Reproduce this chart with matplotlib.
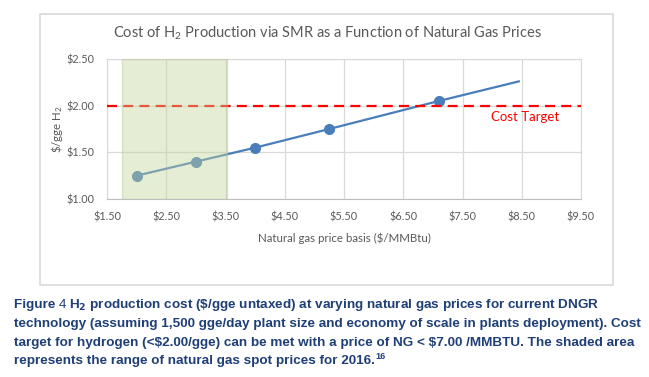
import matplotlib.pyplot as plt
from matplotlib.patches import Rectangle

# Data
gas_price = [2.0, 3.0, 4.0, 5.25, 7.1, 8.45]
h2_cost = [1.25, 1.40, 1.55, 1.75, 2.05, 2.26]
marker_idx = [0, 1, 2, 3, 4]
cost_target = 2.00
spot_range_2016 = (1.75, 3.52)

x_ticks = [1.5, 2.5, 3.5, 4.5, 5.5, 6.5, 7.5, 8.5, 9.5]
y_ticks = [1.0, 1.5, 2.0, 2.5]

caption_lines = [
    "technology (assuming 1,500 gge/day plant size and economy of scale in plants deployment). Cost",
    "target for hydrogen (<$2.00/gge) can be met with a price of NG < $7.00 /MMBTU. The shaded area",
    "represents the range of natural gas spot prices for 2016.",
]

plt.rcParams['font.family'] = ['Lato', 'DejaVu Sans']
plt.rcParams['mathtext.fontset'] = 'custom'
plt.rcParams['mathtext.rm'] = 'Lato'
plt.rcParams['mathtext.it'] = 'Lato'

W, H = 649, 377
fig = plt.figure(figsize=(W / 100, H / 100), dpi=100)

# chart frame
fig.patches.append(Rectangle((40 / W, 1 - 285 / H), 573 / W, 271 / H,
                             transform=fig.transFigure, fill=False,
                             edgecolor='#D9D9D9', linewidth=1.2))

ax = fig.add_axes([107 / W, 1 - 199 / H, 474 / W, 140 / H])
grey = '#595959'

ax.plot(gas_price, h2_cost, color='#4A7EBB', linewidth=1.6, marker='o',
        markersize=7, markevery=marker_idx, zorder=3)
ax.axhline(cost_target, color='#FF0000', linewidth=1.6, dashes=(4.5, 2.8), zorder=4)
ax.axvspan(*spot_range_2016, facecolor='#C4D69B', alpha=0.42,
           edgecolor='#B5C49A', linewidth=1.0, zorder=5)
ax.text(8.55, 1.88, "Cost Target", color='#FF0000', fontsize=9.5,
        ha='center', va='center', zorder=6)

ax.set_xlim(1.5, 9.5)
ax.set_ylim(1.0, 2.5)
ax.set_xticks(x_ticks)
ax.set_yticks(y_ticks)
ax.set_xticklabels([f"${v:.2f}" for v in x_ticks])
ax.set_yticklabels([f"${v:.2f}" for v in y_ticks])
ax.tick_params(length=0, labelsize=7.8, colors=grey)
ax.tick_params(axis='x', pad=9)
ax.tick_params(axis='y', pad=9)
ax.grid(True, color='#D9D9D9', linewidth=0.9, zorder=0)
ax.set_axisbelow(True)
for s in ax.spines.values():
    s.set_color('#D9D9D9')
ax.spines['bottom'].set_color('#BFBFBF')

ax.set_xlabel("Natural gas price basis (\\$/MMBtu)", fontsize=8.3, color=grey, labelpad=7)
ax.set_ylabel("\\$/gge H$_2$", fontsize=8.3, color=grey, labelpad=1)

fig.text(327 / W, 1 - 33 / H,
         "Cost of H$_2$ Production via SMR as a Function of Natural Gas Prices",
         fontsize=10.5, color=grey, ha='center', va='center')

# caption
cap_color = '#1F3F77'
cap_kw = dict(fontsize=9.7, color=cap_color, family='Liberation Sans', va='baseline')
fig.text(14 / W, 1 - 308 / H, "Figure ", weight='bold', **cap_kw)
fig.text(59 / W, 1 - 308 / H, "4", **cap_kw)
fig.text(69 / W, 1 - 308 / H,
         "H$_\\mathbf{2}$ production cost (\\$/gge untaxed) at varying natural gas prices for current DNGR",
         weight='bold', **cap_kw)
fig.text(14 / W, 1 - 327 / H, caption_lines[0].replace('$', '\\$'), weight='bold', **cap_kw)
fig.text(14 / W, 1 - 346 / H, caption_lines[1].replace('$', '\\$'), weight='bold', **cap_kw)
last = fig.text(14 / W, 1 - 364 / H, caption_lines[2], weight='bold', **cap_kw)

# footnote number right after the last line
fig.canvas.draw()
bb = last.get_window_extent()
fig.text((bb.x1 + 1) / W, 1 - 359 / H, "16", weight='bold', fontsize=6.5,
         color=cap_color, family='Liberation Sans', va='baseline')

fig.savefig("out.png", dpi=100)
